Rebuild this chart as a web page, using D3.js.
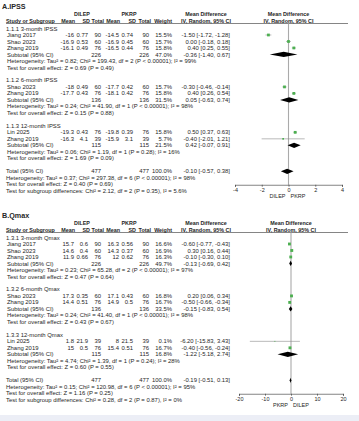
<!DOCTYPE html>
<html><head><meta charset="utf-8">
<script src="https://cdn.jsdelivr.net/npm/d3@7"></script>
<style>
html,body{margin:0;padding:0;background:#fff;}
svg{display:block;font-family:"Liberation Sans",Arial,sans-serif;}
</style></head><body>
<svg id="chart" width="359" height="421"></svg>
<script>
// ---------- DATA ----------
const panelTitles = ["A.IPSS", "B.Qmax"];
const armLabels = ["DILEP", "PKRP"];
const axisLabelsA = ["DILEP", "PKRP"];
const axisLabelsB = ["PKRP", "DILEP"];
const ticksA = [-4, -2, 0, 2, 4];
const ticksB = [-20, -10, 0, 10, 20];
const domainA = [-4, 4];
const domainB = [-20, 20];

const groupsA = ["1.1.1 3-month IPSS", "1.1.2 6-month IPSS", "1.1.3 12-month IPSS"];
const groupsB = ["1.3.1 3-month Qmax", "1.3.2 6-month Qmax", "1.3.3 12-month Qmax"];

const studiesA = [
  {g:0, name:"Jiang 2017", m1:-16,   sd1:0.77, n1:90, m2:-14.5, sd2:0.74, n2:90, w:15.5, md:-1.50, lo:-1.72, hi:-1.28},
  {g:0, name:"Shao 2023",  m1:-16.9, sd1:0.53, n1:60, m2:-16.9, sd2:0.45, n2:60, w:15.7, md:0.00,  lo:-0.18, hi:0.18},
  {g:0, name:"Zhang 2019", m1:-16.1, sd1:0.49, n1:76, m2:-16.5, sd2:0.44, n2:76, w:15.8, md:0.40,  lo:0.25,  hi:0.55},
  {g:1, name:"Shao 2023",  m1:-18,   sd1:0.49, n1:60, m2:-17.7, sd2:0.42, n2:60, w:15.7, md:-0.30, lo:-0.46, hi:-0.14},
  {g:1, name:"Zhang 2019", m1:-17.7, sd1:0.43, n1:76, m2:-18.1, sd2:0.42, n2:76, w:15.8, md:0.40,  lo:0.26,  hi:0.54},
  {g:2, name:"Lin 2025",   m1:-19.3, sd1:0.43, n1:76, m2:-19.8, sd2:0.39, n2:76, w:15.8, md:0.50,  lo:0.37,  hi:0.63},
  {g:2, name:"Zhang 2019", m1:-16.3, sd1:4.1,  n1:39, m2:-15.9, sd2:3.1,  n2:39, w:5.7,  md:-0.40, lo:-2.01, hi:1.21}
];
const subtotalsA = [
  {n1:226, n2:226, w:47.0, md:-0.36, lo:-1.40, hi:0.67},
  {n1:136, n2:136, w:31.5, md:0.05,  lo:-0.63, hi:0.74},
  {n1:115, n2:115, w:21.5, md:0.42,  lo:-0.07, hi:0.91}
];
const hetA = [
  {tau2:0.82, chi2:199.43, df:2, p:"< 0.00001", i2:"99%", z:0.69, pz:"0.49"},
  {tau2:0.24, chi2:41.90,  df:1, p:"< 0.00001", i2:"98%", z:0.15, pz:"0.88"},
  {tau2:0.06, chi2:1.19,   df:1, p:"= 0.28",    i2:"16%", z:1.69, pz:"0.09"}
];
const totalA = {n1:477, n2:477, w:100.0, md:-0.10, lo:-0.57, hi:0.38};
const totalHetA = {tau2:0.37, chi2:297.38, df:6, p:"< 0.00001", i2:"98%", z:0.40, pz:"0.69"};
const subgroupA = {chi2:2.12, df:2, p:"0.35", i2:"5.6%"};

const studiesB = [
  {g:0, name:"Jiang 2017", m1:15.7, sd1:0.6,  n1:90, m2:16.3, sd2:0.56, n2:90, w:16.6, md:-0.60, lo:-0.77,  hi:-0.43},
  {g:0, name:"Shao 2023",  m1:14.6, sd1:0.4,  n1:60, m2:14.3, sd2:0.37, n2:60, w:16.9, md:0.30,  lo:0.16,   hi:0.44},
  {g:0, name:"Zhang 2019", m1:11.9, sd1:0.66, n1:76, m2:12,   sd2:0.62, n2:76, w:16.3, md:-0.10, lo:-0.30,  hi:0.10},
  {g:1, name:"Shao 2023",  m1:17.3, sd1:0.35, n1:60, m2:17.1, sd2:0.43, n2:60, w:16.8, md:0.20,  lo:0.06,   hi:0.34},
  {g:1, name:"Zhang 2019", m1:14.4, sd1:0.51, n1:76, m2:14.9, sd2:0.5,  n2:76, w:16.7, md:-0.50, lo:-0.66,  hi:-0.34},
  {g:2, name:"Lin 2025",   m1:1.8,  sd1:21.9, n1:39, m2:8,    sd2:21.5, n2:39, w:0.1,  md:-6.20, lo:-15.83, hi:3.43},
  {g:2, name:"Zhang 2019", m1:15,   sd1:0.5,  n1:76, m2:15.4, sd2:0.51, n2:76, w:16.7, md:-0.40, lo:-0.56,  hi:-0.24}
];
const subtotalsB = [
  {n1:226, n2:226, w:49.7, md:-0.13, lo:-0.69, hi:0.42},
  {n1:136, n2:136, w:33.5, md:-0.15, lo:-0.83, hi:0.54},
  {n1:115, n2:115, w:16.8, md:-1.22, lo:-5.18, hi:2.74}
];
const hetB = [
  {tau2:0.23, chi2:65.28, df:2, p:"< 0.00001", i2:"97%", z:0.47, pz:"0.64"},
  {tau2:0.24, chi2:41.40, df:1, p:"< 0.00001", i2:"98%", z:0.43, pz:"0.67"},
  {tau2:4.74, chi2:1.39,  df:1, p:"= 0.24",    i2:"28%", z:0.60, pz:"0.55"}
];
const totalB = {n1:477, n2:477, w:100.0, md:-0.19, lo:-0.51, hi:0.13};
const totalHetB = {tau2:0.15, chi2:120.98, df:6, p:"< 0.00001", i2:"95%", z:1.16, pz:"0.25"};
const subgroupB = {chi2:0.28, df:2, p:"0.87", i2:"0%"};

// ---------- DRAW ----------
const svg = d3.select("#chart");
svg.append("rect").attr("x",0).attr("y",415).attr("width",359).attr("height",6).attr("fill","#eceef6");

const FS = 5.9, HFS = 5.4, TXT = "#262626";
const f2 = v => v.toFixed(2);
const ci = d => `${f2(d.md)} [${f2(d.lo)}, ${f2(d.hi)}]`;
const hetText = h => `Heterogeneity: Tau\u00b2 = ${f2(h.tau2)}; Chi\u00b2 = ${f2(h.chi2)}, df = ${h.df} (P ${h.p}); I\u00b2 = ${h.i2}`;
const zText = h => `Test for overall effect: Z = ${f2(h.z)} (P = ${h.pz})`;
const sgText = s => `Test for subgroup differences: Chi\u00b2 = ${f2(s.chi2)}, df = ${s.df} (P = ${s.p}), I\u00b2 = ${s.i2}`;

function drawPanel(cfg) {
  const g = svg.append("g").attr("transform", `translate(0,${cfg.top})`);
  const step = 6.49, r0 = 28.5;
  const rowY = i => r0 + i * step;
  const text = (x, y, s, anchor="start", weight="normal", size=FS) =>
    g.append("text").attr("x", x).attr("y", y).attr("dy", "0.35em")
      .attr("text-anchor", anchor).attr("font-size", size).attr("font-weight", weight)
      .attr("fill", TXT).text(s);

  const col = {name:6, m1:74, sd1:88, n1:101, m2:119, sd2:133, n2:149, w:172, ci:230};
  const hcol = {m1:75, sd1:90, n1:104, m2:120, sd2:136, n2:151, w:172};
  const x = d3.scaleLinear().domain(cfg.domain).range(cfg.range);

  text(2, 6, cfg.title, "start", "bold", 7.2);
  text(82, 14, armLabels[0], "middle", "bold", HFS);
  text(129, 14, armLabels[1], "middle", "bold", HFS);
  text(206, 14.5, "Mean Difference", "middle", "bold", HFS);
  text(x(0), 14.5, "Mean Difference", "middle", "bold", HFS);
  const hy = 21;
  text(col.name, hy, "Study or Subgroup", "start", "bold", HFS);
  [["m1","Mean"],["sd1","SD"],["n1","Total"],["m2","Mean"],["sd2","SD"],["n2","Total"],["w","Weight"]]
    .forEach(([k, s]) => text(hcol[k], hy, s, "end", "bold", HFS));
  text(206, hy, "IV, Random, 95% CI", "middle", "bold", HFS);
  text(x(0), hy, "IV, Random, 95% CI", "middle", "bold", HFS);
  g.append("line").attr("x1", 6).attr("x2", 348).attr("y1", 23.5).attr("y2", 23.5)
    .attr("stroke", "#333").attr("stroke-width", 0.6);

  const axisRow = 24;
  const axisY = rowY(axisRow) + 0.5;
  g.append("line").attr("x1", x(0)).attr("x2", x(0)).attr("y1", 23.5).attr("y2", axisY)
    .attr("stroke", "#aaa").attr("stroke-width", 1.1);

  let r = 0;
  const diamond = (d, y) => {
    const h = 2.6;
    g.append("path").attr("d",
      `M${x(d.lo)},${y}L${x(d.md)},${y-h}L${x(d.hi)},${y}L${x(d.md)},${y+h}Z`)
      .attr("fill", "#000");
  };
  cfg.groups.forEach((gl, gi) => {
    text(col.name, rowY(r), gl); r++;
    cfg.studies.filter(s => s.g === gi).forEach(s => {
      const y = rowY(r);
      text(col.name + 1, y, s.name);
      text(col.m1, y, String(s.m1), "end");
      text(col.sd1, y, String(s.sd1), "end");
      text(col.n1, y, String(s.n1), "end");
      text(col.m2, y, String(s.m2), "end");
      text(col.sd2, y, String(s.sd2), "end");
      text(col.n2, y, String(s.n2), "end");
      text(col.w, y, s.w.toFixed(1) + "%", "end");
      text(col.ci, y, ci(s), "end");
      g.append("line").attr("x1", x(Math.max(s.lo, cfg.domain[0]))).attr("x2", x(Math.min(s.hi, cfg.domain[1])))
        .attr("y1", y).attr("y2", y).attr("stroke", "#8a8a8a").attr("stroke-width", 0.6);
      const side = Math.max(0.9, 0.7 * Math.sqrt(s.w));
      g.append("rect").attr("x", x(s.md) - side/2).attr("y", y - side/2)
        .attr("width", side).attr("height", side).attr("fill", "#4caf50");
      r++;
    });
    const st = cfg.subtotals[gi], y = rowY(r);
    text(col.name + 1, y, "Subtotal (95% CI)");
    text(col.n1, y, String(st.n1), "end");
    text(col.n2, y, String(st.n2), "end");
    text(col.w, y, st.w.toFixed(1) + "%", "end");
    text(col.ci, y, ci(st), "end");
    diamond(st, y);
    r++;
    text(col.name + 1, rowY(r), hetText(cfg.het[gi])); r++;
    text(col.name + 1, rowY(r), zText(cfg.het[gi])); r++;
    r++;
  });
  const ty = rowY(r);
  text(col.name, ty, "Total (95% CI)");
  text(col.n1, ty, String(cfg.total.n1), "end");
  text(col.n2, ty, String(cfg.total.n2), "end");
  text(col.w, ty, cfg.total.w.toFixed(1) + "%", "end");
  text(col.ci, ty, ci(cfg.total), "end");
  diamond(cfg.total, ty);
  r++;
  text(col.name, rowY(r), hetText(cfg.totalHet)); r++;
  text(col.name, rowY(r), zText(cfg.totalHet)); r++;
  text(col.name, rowY(r), sgText(cfg.subgroup));

  const ax = g.append("g").attr("transform", `translate(0,${axisY})`)
    .call(d3.axisBottom(x).tickValues(cfg.ticks).tickFormat(d => String(d)).tickSize(2).tickPadding(1));
  ax.select(".domain").attr("stroke", "#333").attr("stroke-width", 0.6);
  ax.selectAll(".tick line").attr("stroke", "#333").attr("stroke-width", 0.6);
  ax.selectAll(".tick text").attr("font-size", 5.5).attr("fill", TXT).attr("font-family", "Liberation Sans, Arial, sans-serif");
  text(x(0) - 3, axisY + 11.5, cfg.axisLabels[0], "end", "normal", 5.5);
  text(x(0) + 2, axisY + 11.5, cfg.axisLabels[1], "start", "normal", 5.5);
}

drawPanel({top:0, title:panelTitles[0], domain:domainA, range:[235, 342], ticks:ticksA,
  groups:groupsA, studies:studiesA, subtotals:subtotalsA, het:hetA, total:totalA,
  totalHet:totalHetA, subgroup:subgroupA, axisLabels:axisLabelsA});
drawPanel({top:209, title:panelTitles[1], domain:domainB, range:[239, 343], ticks:ticksB,
  groups:groupsB, studies:studiesB, subtotals:subtotalsB, het:hetB, total:totalB,
  totalHet:totalHetB, subgroup:subgroupB, axisLabels:axisLabelsB});
</script>
</body></html>
